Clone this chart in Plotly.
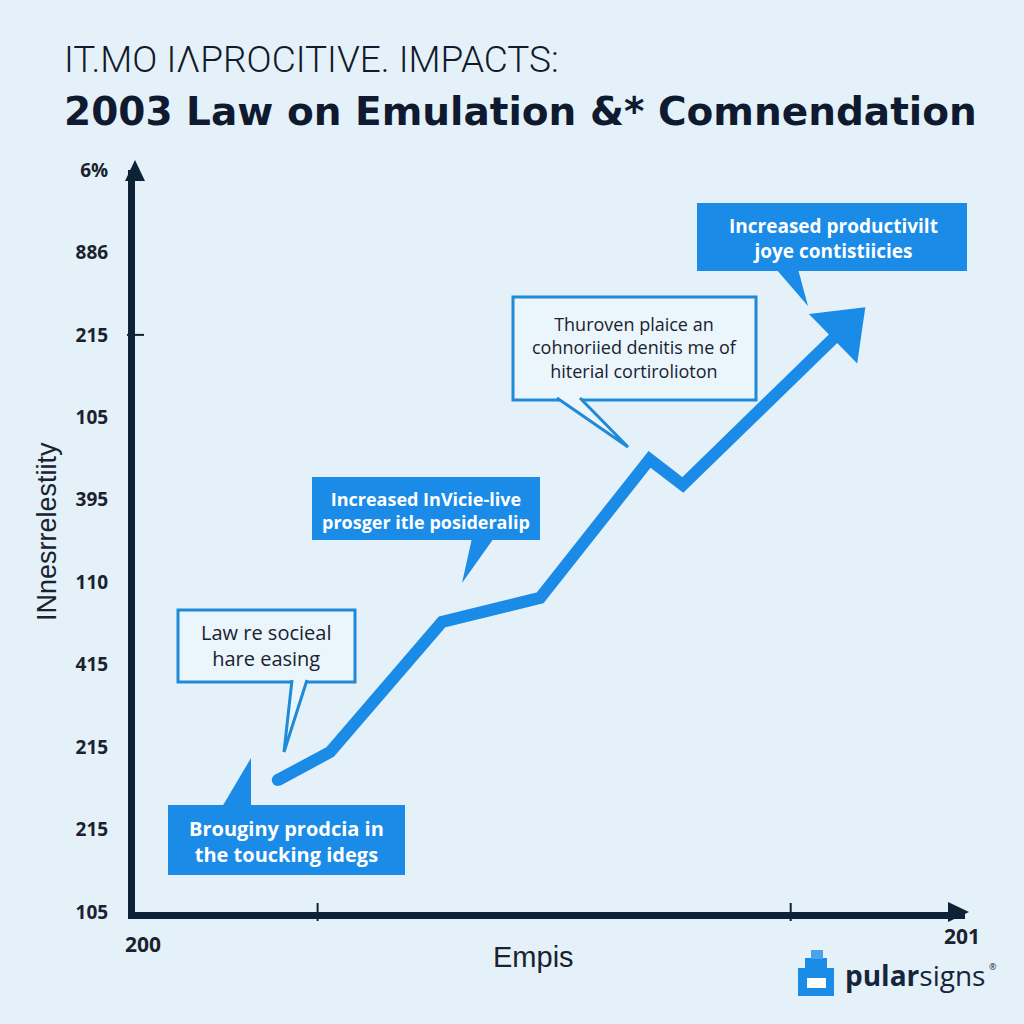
import plotly.graph_objects as go

# ---------------- data ----------------
x_vals = [1.72, 2.35, 3.70, 4.88, 6.20, 6.60, 8.54]
y_vals = [1.60, 1.94, 3.52, 3.81, 5.49, 5.18, 7.08]
y_tick_vals = [0, 1, 2, 3, 4, 5, 6, 7, 8, 9]
y_tick_text = ["105", "215", "215", "415", "110", "395", "105", "215", "886", "6%"]
x_end_labels = ["200", "201"]
x_tick_marks = [2.2, 7.9]
y_tick_marks = [7]

title_1 = "IT.MO I\u039bPROCITIVE. IMPACTS:"
title_2 = "2003 Law on Emulation &* Comnendation"
y_title = "INnesrrelestiity"
x_title = "Empis"
callouts = [
    "Increased productivilt<br>joye contistiicies",
    "Thuroven plaice an<br>cohnoriied denitis me of<br>hiterial cortirolioton",
    "Increased InVicie-live<br>prosger itle posideralip",
    "Law re socieal<br>hare easing",
    "Brouginy prodcia in<br>the toucking idegs",
]

# ---------------- styling ----------------
W, H = 1024, 1024
L, R, T, B = 135, 59, 170, 112
PW, PH = W - L - R, H - T - B
BG = "#e5f1f8"
BLUE = "#1a8be6"
NAVY = "#0e2236"
TEXT = "#1a2230"


def px(x):
    return (x - L) / PW


def py(y):
    return (H - B - y) / PH


n = len(x_vals)
fig = go.Figure()
fig.add_trace(go.Scatter(
    x=x_vals, y=y_vals, mode="lines+markers",
    line=dict(color=BLUE, width=12),
    marker=dict(size=[12] + [0] * (n - 1), color=BLUE, opacity=1, line=dict(width=0)),
    hoverinfo="skip", showlegend=False,
))
# arrow head at the end of the series, oriented along the last segment
fig.add_trace(go.Scatter(
    x=x_vals[-2:], y=y_vals[-2:], mode="markers",
    marker=dict(size=[0, 60], symbol="triangle-up", angleref="previous",
                color=BLUE, opacity=1, line=dict(width=0)),
    hoverinfo="skip", showlegend=False,
))

shapes = []
annotations = []

# axis arrowheads
shapes.append(dict(type="path", xref="paper", yref="paper",
                   path=f"M{px(125)},{py(181)} L{px(135)},{py(160)} L{px(145)},{py(181)} Z",
                   fillcolor=NAVY, line=dict(width=0), layer="above"))
shapes.append(dict(type="path", xref="paper", yref="paper",
                   path=f"M{px(948)},{py(902)} L{px(969)},{py(912)} L{px(948)},{py(922)} Z",
                   fillcolor=NAVY, line=dict(width=0), layer="above"))

# crossing tick marks
for xv in x_tick_marks:
    shapes.append(dict(type="line", xref="x", yref="paper", x0=xv, x1=xv,
                       y0=py(903), y1=py(921), line=dict(color=NAVY, width=2), layer="above"))
for yv in y_tick_marks:
    shapes.append(dict(type="line", xref="paper", yref="y", x0=px(127), x1=px(144),
                       y0=yv, y1=yv, line=dict(color=NAVY, width=2), layer="above"))

# callout boxes
boxes = [
    (697, 203, 967, 271, True, ((776, 269), (798, 269), (808, 306)), (833, 238), 19, True),
    (513, 297, 756, 400, False, ((557, 398), (580, 398), (628, 447)), (634, 347), 18, False),
    (312, 477, 540, 540, True, ((472, 538), (494, 538), (462, 583)), (426, 510), 18, True),
    (178, 610, 355, 682, False, ((292, 680), (307, 680), (284, 752)), (266, 645), 20, False),
    (168, 805, 405, 875, True, ((222, 807), (251, 807), (251, 758)), (286, 841), 20, True),
]
for (x0, y0, x1, y1, filled, tail, ctr, fs, bold), txt in zip(boxes, callouts):
    a, b, tip = tail
    path = f"M{px(a[0])},{py(a[1])} L{px(tip[0])},{py(tip[1])} L{px(b[0])},{py(b[1])}"
    if filled:
        shapes.append(dict(type="rect", xref="paper", yref="paper",
                           x0=px(x0), x1=px(x1), y0=py(y1), y1=py(y0),
                           fillcolor=BLUE, line=dict(width=0), layer="above"))
        shapes.append(dict(type="path", xref="paper", yref="paper", path=path + " Z",
                           fillcolor=BLUE, line=dict(width=0), layer="above"))
        color = "white"
    else:
        shapes.append(dict(type="rect", xref="paper", yref="paper",
                           x0=px(x0), x1=px(x1), y0=py(y1), y1=py(y0),
                           fillcolor="#eaf5fc", line=dict(color="#1f8ad8", width=3), layer="above"))
        shapes.append(dict(type="path", xref="paper", yref="paper", path=path,
                           fillcolor="#eaf5fc", line=dict(color="#1f8ad8", width=3), layer="above"))
        color = TEXT
    annotations.append(dict(
        x=px(ctr[0]), y=py(ctr[1]), xref="paper", yref="paper",
        text=txt, showarrow=False, align="center", xanchor="center", yanchor="middle",
        font=dict(family="Open Sans, Liberation Sans, sans-serif", size=fs, color=color,
                  weight="bold" if bold else "normal"),
    ))

# titles
annotations.append(dict(x=px(62), y=py(60), xref="paper", yref="paper", text=title_1,
                        showarrow=False, xanchor="left", yanchor="middle",
                        font=dict(family="Roboto, Liberation Sans", size=37, color="#121a2c",
                                  weight=300)))
annotations.append(dict(x=px(62), y=py(111), xref="paper", yref="paper", text=title_2,
                        showarrow=False, xanchor="left", yanchor="middle",
                        font=dict(family="DejaVu Sans, Liberation Sans", size=39, color="#0f1a30",
                                  weight="bold")))
# axis titles & end labels
annotations.append(dict(x=px(47), y=py(532), xref="paper", yref="paper", text=y_title,
                        showarrow=False, textangle=-90, xanchor="center", yanchor="middle",
                        font=dict(family="Liberation Sans, Arial", size=27, color=TEXT)))
annotations.append(dict(x=px(533), y=py(957), xref="paper", yref="paper", text=x_title,
                        showarrow=False, xanchor="center", yanchor="middle",
                        font=dict(family="Liberation Sans, Arial", size=29, color=TEXT)))
for lab, (cx, cy) in zip(x_end_labels, [(143, 944), (962, 936)]):
    annotations.append(dict(x=px(cx), y=py(cy), xref="paper", yref="paper", text=lab,
                            showarrow=False, xanchor="center", yanchor="middle",
                            font=dict(family="Open Sans, Liberation Sans", size=21,
                                      color=TEXT, weight="bold")))

# logo
icon_parts = [
    (798, 968, 834, 996, BLUE),
    (805, 958, 827, 970, BLUE),
    (811, 950, 823, 959, "#4aa3ec"),
    (807, 978, 826, 988, "white"),
]
for x0, y0, x1, y1, c in icon_parts:
    shapes.append(dict(type="rect", xref="paper", yref="paper", x0=px(x0), x1=px(x1),
                       y0=py(y1), y1=py(y0), fillcolor=c, line=dict(width=0), layer="above"))
annotations.append(dict(x=px(843), y=py(975), xref="paper", yref="paper",
                        text="<b>pular</b>signs", showarrow=False,
                        xanchor="left", yanchor="middle",
                        font=dict(family="Open Sans, Liberation Sans", size=28, color="#15253c")))
annotations.append(dict(x=px(987), y=py(967), xref="paper", yref="paper",
                        text="\u00ae", showarrow=False, xanchor="left", yanchor="middle",
                        font=dict(family="Open Sans, Liberation Sans", size=9, color="#15253c")))

fig.update_layout(
    width=W, height=H, margin=dict(l=L, r=R, t=T, b=B),
    paper_bgcolor=BG, plot_bgcolor=BG,
    xaxis=dict(range=[0, 10], showgrid=False, zeroline=False, showticklabels=False,
               ticks="", showline=True, linecolor=NAVY, linewidth=7, fixedrange=True),
    yaxis=dict(range=[0, 9], showgrid=False, zeroline=False, tickvals=y_tick_vals,
               ticktext=y_tick_text, ticks="outside", ticklen=16,
               tickcolor="rgba(0,0,0,0)", showline=True, linecolor=NAVY, linewidth=7,
               tickfont=dict(family="Open Sans, Liberation Sans", size=19, color=TEXT,
                             weight="bold"), fixedrange=True),
    shapes=shapes, annotations=annotations, showlegend=False,
)

fig.write_html("out.html", config={"displayModeBar": False},
               post_script="document.body.style.margin='0px';"
                           "document.body.style.background='#e5f1f8';")
